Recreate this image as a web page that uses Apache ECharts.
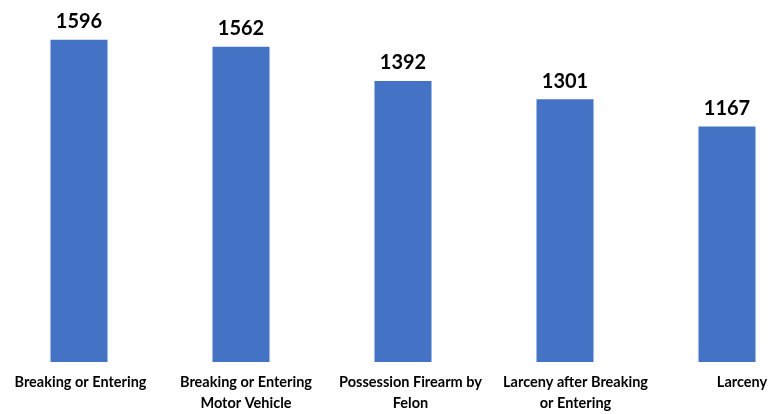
<!DOCTYPE html>
<html><head><meta charset="utf-8">
<script src="https://cdn.jsdelivr.net/npm/echarts@6/dist/echarts.min.js"></script>
<style>html,body{margin:0;padding:0;background:#fff;overflow:hidden}#c{position:absolute;left:-2px;top:0;width:810px;height:414px}</style>
</head><body><div id="c"></div>
<script>
const categories = ["Breaking or Entering", "Breaking or Entering\nMotor Vehicle", "Possession Firearm by\nFelon", "Larceny after Breaking\nor Entering", "Larceny"];
const values = [1596, 1562, 1392, 1301, 1167];
const labelShift = [3, 10, 15, 21, 30];
const rich = {};
labelShift.forEach((s, i) => { rich['p' + i] = {padding: [0, 0, 0, s], fontFamily: 'Lato', fontWeight: 'bold', fontSize: 14.5, color: '#000', lineHeight: 21}; });
const chart = echarts.init(document.getElementById('c'));
chart.setOption({
  animation: false,
  grid: {left: 0, right: 0, top: 39, bottom: 48, containLabel: false},
  xAxis: {
    type: 'category', data: categories,
    axisLine: {show: false}, axisTick: {show: false},
    axisLabel: {interval: 0, margin: 10, fontFamily: 'Lato', fontWeight: 'bold', fontSize: 14.5, color: '#000', lineHeight: 21,
      formatter: (v, i) => v.split('\n').map(l => '{p' + i + '|' + l + '}').join('\n'), rich: rich}
  },
  yAxis: {type: 'value', min: 0, max: 1600, show: false, splitLine: {show: false}},
  series: [{
    type: 'bar', data: values, barWidth: 57,
    itemStyle: {color: '#4472C4'},
    label: {show: true, position: 'top', distance: 8, fontFamily: 'Lato', fontWeight: 'bold', fontSize: 20, color: '#000'}
  }]
});
</script></body></html>
